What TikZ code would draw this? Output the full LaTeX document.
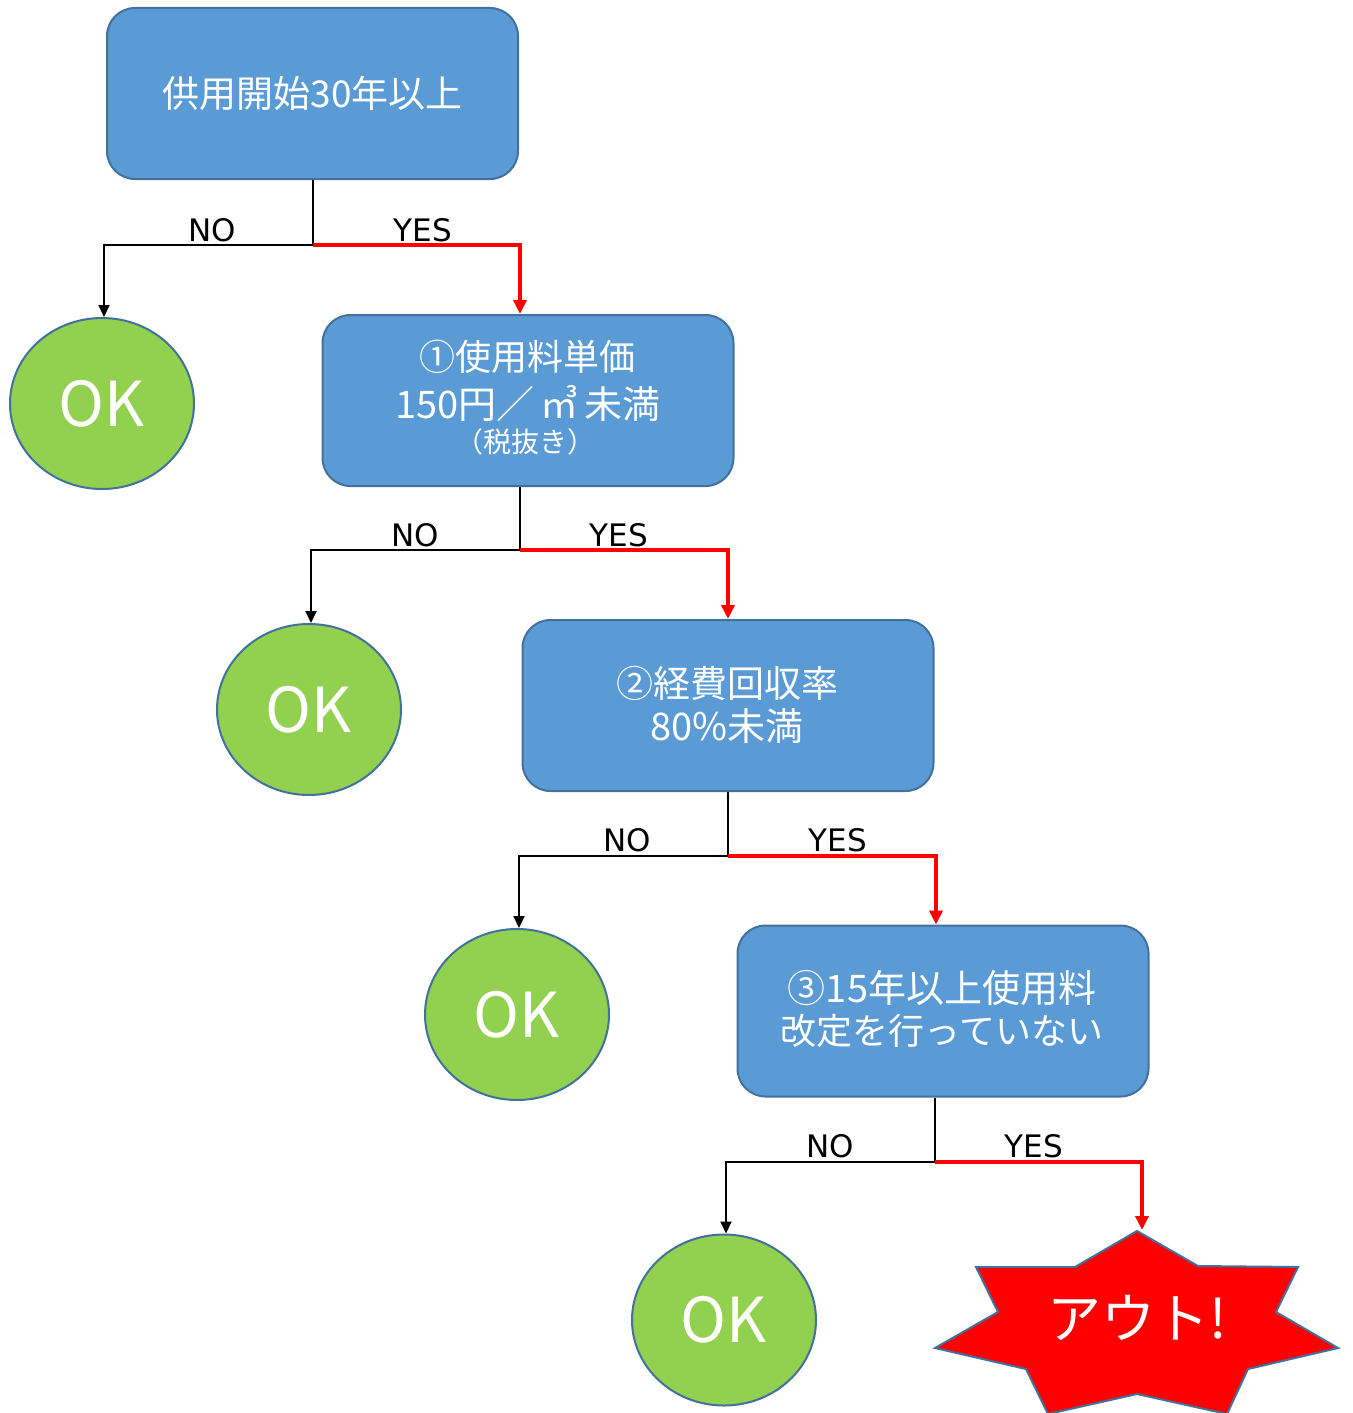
\documentclass[tikz,border=0pt]{standalone}
\usepackage{fontspec}
\setmainfont{Noto Sans CJK JP}
\newfontfamily\lblfont{DejaVu Sans}
\usetikzlibrary{shapes.geometric,arrows.meta}
\definecolor{boxfill}{HTML}{5B9BD5}
\definecolor{boxline}{HTML}{41719C}
\definecolor{okfill}{HTML}{92D050}
\definecolor{outred}{HTML}{FF0000}
\tikzset{
  qbox/.style={draw=boxline, line width=2pt, fill=boxfill, rounded corners=28pt,
    minimum width=411pt, minimum height=171pt, inner sep=0pt},
  qtxt/.style={text=white, inner sep=0pt},
  okc/.style={ellipse, draw=boxline, line width=2pt, fill=okfill, minimum width=184pt,
    minimum height=171pt, text=white, font=\fontsize{62}{70}\selectfont, inner sep=0pt},
  nob/.style={draw=black, line width=2pt, -{Triangle[length=12pt,width=11pt]}},
  yesr/.style={draw=outred, line width=3.5pt, -{Triangle[length=14pt,width=13pt]}},
  lbl/.style={font=\lblfont\fontsize{31}{34}\selectfont, inner sep=0pt}
}
\begin{document}
\begin{tikzpicture}[x=1pt,y=-1pt]
\useasboundingbox (0,0) rectangle (1352,1413);
% boxes
\node[qbox] (b0) at (312.5,93.5) {};
\node[qtxt, font=\fontsize{37}{44}\selectfont] (t0) at (312.5,93) {供用開始30年以上};
\node[qbox] (b1) at (528,400.5) {};
\node[qtxt, font=\fontsize{36}{40}\selectfont] (t1a) at (527,357) {①使用料単価};
\node[qtxt, font=\fontsize{38}{40}\selectfont] (t1b) at (528,404) {150円／\hspace{6pt}㎥\hspace{6pt}未満};
\node[qtxt, font=\fontsize{28}{30}\selectfont] (t1c) at (525,442) {（税抜き）};
\node[qbox] (b2) at (728,705.5) {};
\node[qtxt, font=\fontsize{37}{40}\selectfont] (t2a) at (727,683) {②経費回収率};
\node[qtxt, font=\fontsize{38}{40}\selectfont] (t2b) at (727,726) {80\%未満};
\node[qbox] (b3) at (943,1011) {};
\node[qtxt, font=\fontsize{38}{40}\selectfont] (t3a) at (942,988) {③15年以上使用料};
\node[qtxt, font=\fontsize{36}{40}\selectfont] (t3b) at (942,1031) {改定を行っていない};
% OK circles
\node[okc] (ok1) at (102,403.5) {OK};
\node[okc] (ok2) at (309,709.5) {OK};
\node[okc] (ok3) at (517,1014.5) {OK};
\node[okc] (ok4) at (724,1320) {OK};
% star
\draw[fill=outred, draw=boxline, line width=2pt, line join=miter]
  (1137,1231) -- (1198,1266) -- (1298,1267) -- (1276,1312) -- (1338,1348)
  -- (1248,1369) -- (1227,1414) -- (1137,1394) -- (1048,1414) -- (1026,1369)
  -- (935,1348) -- (998,1312) -- (976,1267) -- (1075,1267) -- cycle;
\node[text=white, font=\fontsize{54}{60}\selectfont] (out) at (1137,1318) {アウト!};
\coordinate (outtop) at (1142,1230);
% junctions
\coordinate (j0) at (312.5,245);
\coordinate (j1) at (520,550);
\coordinate (j2) at (728,856);
\coordinate (j3) at (935,1162);
% level 0
\draw[line width=2pt] (b0.south) -- (j0);
\draw[nob] (j0) -| ([xshift=2pt]ok1.north);
\draw[yesr] (j0) -| ([xshift=-8pt]b1.north);
\node[lbl] (no0) at (212,230) {NO};
\node[lbl] (yes0) at (423,230) {YES};
% level 1
\draw[line width=2pt] ([xshift=-8pt]b1.south) -- (j1);
\draw[nob] (j1) -| ([xshift=2pt]ok2.north);
\draw[yesr] (j1) -| (b2.north);
\node[lbl] (no1) at (415,535) {NO};
\node[lbl] (yes1) at (619,535) {YES};
% level 2
\draw[line width=2pt] (b2.south) -- (j2);
\draw[nob] (j2) -| ([xshift=2pt]ok3.north);
\draw[yesr] (j2) -| ([xshift=-7pt]b3.north);
\node[lbl] (no2) at (627,840) {NO};
\node[lbl] (yes2) at (838,840) {YES};
% level 3
\draw[line width=2pt] ([xshift=-8pt]b3.south) -- (j3);
\draw[nob] (j3) -| ([xshift=2pt]ok4.north);
\draw[yesr] (j3) -| (outtop);
\node[lbl] (no3) at (830,1146) {NO};
\node[lbl] (yes3) at (1034,1146) {YES};
\end{tikzpicture}
\end{document}
